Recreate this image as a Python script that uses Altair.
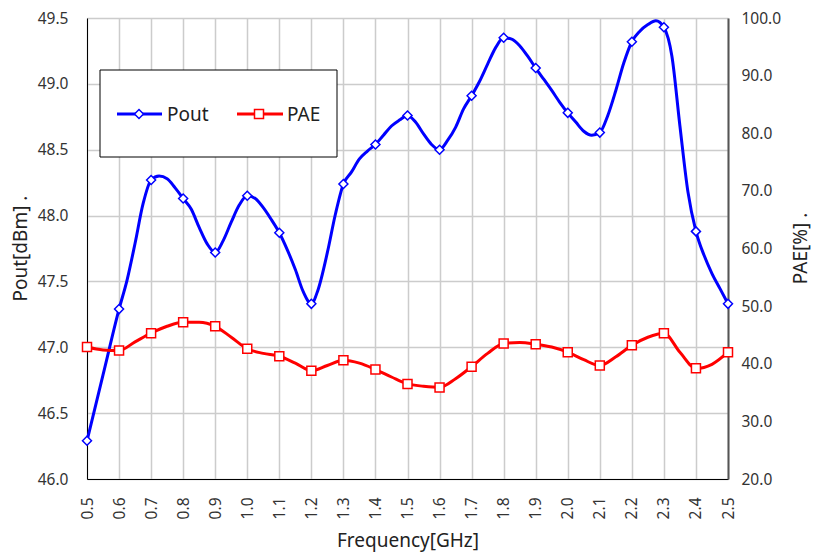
import altair as alt
import pandas as pd

# ---- data ----
freq_marks = [0.5, 0.6, 0.7, 0.8, 0.9, 1.0, 1.1, 1.2, 1.3, 1.4, 1.5,
              1.6, 1.7, 1.8, 1.9, 2.0, 2.1, 2.2, 2.3, 2.4, 2.5]
pout_marks = [46.29, 47.29, 48.27, 48.13, 47.72, 48.15, 47.87, 47.33, 48.24, 48.54, 48.76,
              48.50, 48.91, 49.35, 49.12, 48.78, 48.63, 49.32, 49.43, 47.88, 47.33]
pae_marks = [42.9, 42.3, 45.3, 47.2, 46.5, 42.6, 41.3, 38.8, 40.6, 39.0, 36.5,
             35.9, 39.5, 43.5, 43.4, 42.0, 39.7, 43.2, 45.3, 39.2, 42.0]

pout_mid_freq = [0.55, 0.625, 0.65, 0.675, 0.725, 0.75, 0.775, 0.825, 0.85, 0.875,
                 0.925, 0.95, 0.975, 1.025, 1.05, 1.075, 1.125, 1.15, 1.175, 1.22,
                 1.25, 1.275, 1.325, 1.35, 1.375, 1.425, 1.45, 1.475, 1.525, 1.55,
                 1.575, 1.625, 1.65, 1.675, 1.725, 1.75, 1.775, 1.825, 1.85, 1.875,
                 1.925, 1.95, 1.975, 2.025, 2.05, 2.075, 2.125, 2.15, 2.175, 2.225,
                 2.25, 2.275, 2.325, 2.35, 2.375, 2.425, 2.45, 2.475]
pout_mid = [46.79, 47.51, 47.79, 48.09, 48.30, 48.28, 48.21, 48.05, 47.91, 47.785,
            47.81, 47.95, 48.08, 48.13, 48.06, 47.97, 47.74, 47.59, 47.42, 47.43,
            47.72, 48.01, 48.33, 48.43, 48.49, 48.61, 48.68, 48.725, 48.71, 48.62,
            48.54, 48.57, 48.67, 48.81, 49.02, 49.15, 49.275, 49.34, 49.29, 49.21,
            49.035, 48.95, 48.86, 48.71, 48.64, 48.61, 48.76, 48.95, 49.16, 49.40,
            49.45, 49.48, 49.21, 48.68, 48.18, 47.70, 47.56, 47.445]

pae_mid_freq = [0.55, 0.65, 0.75, 0.85, 0.95, 1.05, 1.15, 1.25, 1.35, 1.45,
                1.55, 1.65, 1.75, 1.85, 1.95, 2.05, 2.15, 2.25, 2.35, 2.45]
pae_mid = [42.4, 43.8, 46.5, 47.2, 44.6, 41.8, 40.1, 39.7, 40.1, 37.7,
           36.1, 37.4, 41.8, 43.7, 42.9, 40.7, 41.2, 44.6, 42.0, 39.9]

series_names = ["Pout", "PAE"]
series_colors = ["#0000FF", "#FF0000"]

x_ticks = [round(0.5 + 0.1 * i, 1) for i in range(21)]
pout_ticks = [46.0, 46.5, 47.0, 47.5, 48.0, 48.5, 49.0, 49.5]
pae_ticks = [20, 30, 40, 50, 60, 70, 80, 90, 100]

FONT = "Noto Sans"

pout_line_df = pd.DataFrame({"f": freq_marks + pout_mid_freq,
                             "v": pout_marks + pout_mid}).sort_values("f")
pae_line_df = pd.DataFrame({"f": freq_marks + pae_mid_freq,
                            "v": pae_marks + pae_mid}).sort_values("f")
pout_pts_df = pd.DataFrame({"f": freq_marks, "v": pout_marks})
pae_pts_df = pd.DataFrame({"f": freq_marks, "v": pae_marks})

x_enc = alt.X("f:Q",
              scale=alt.Scale(domain=[0.5, 2.5], nice=False, zero=False),
              axis=alt.Axis(values=x_ticks, format=".1f", labelAngle=270,
                            labelAlign="right", labelBaseline="middle",
                            labelPadding=18, ticks=False, tickSize=0,
                            grid=True, gridColor="#cccccc", gridWidth=1.5,
                            domainColor="#000000", domainWidth=1,
                            labelFont=FONT, labelFontSize=15.5, labelColor="#333333",
                            title="Frequency[GHz]", titleFont=FONT, titleFontSize=19,
                            titleFontWeight="normal", titleColor="#222222",
                            titleX=320.5, titleY=61, titleAlign="center",
                            titleBaseline="middle"))

y_left = alt.Y("v:Q",
               scale=alt.Scale(domain=[46.0, 49.5], nice=False, zero=False),
               axis=alt.Axis(values=pout_ticks, format=".1f", orient="left",
                             ticks=False, tickSize=0, labelPadding=19,
                             grid=True, gridColor="#cccccc", gridWidth=1.5,
                             domainColor="#000000", domainWidth=1,
                             labelFont=FONT, labelFontSize=15.5, labelColor="#333333",
                             title="Pout[dBm] .", titleFont=FONT, titleFontSize=19,
                             titleFontWeight="normal", titleColor="#222222",
                             titleAngle=270, titleX=-67, titleY=230,
                             titleAlign="center", titleBaseline="middle"))

y_right = alt.Y("v:Q",
                scale=alt.Scale(domain=[20, 100], nice=False, zero=False),
                axis=alt.Axis(values=pae_ticks, format=".1f", orient="right",
                              ticks=False, tickSize=0, labelPadding=13,
                              grid=False, domainColor="#555555", domainWidth=2,
                              labelFont=FONT, labelFontSize=15.5, labelColor="#333333",
                              title="PAE[%] .", titleFont=FONT, titleFontSize=19,
                              titleFontWeight="normal", titleColor="#222222",
                              titleAngle=270, titleX=72, titleY=230,
                              titleAlign="center", titleBaseline="middle"))

pout_line = alt.Chart(pout_line_df).mark_line(
    color=series_colors[0], strokeWidth=3, interpolate="monotone").encode(x=x_enc, y=y_left)
pout_pts = alt.Chart(pout_pts_df).mark_point(
    shape="diamond", size=81, filled=True, fill="white", stroke=series_colors[0],
    strokeWidth=1.5, opacity=1).encode(x=x_enc, y=y_left)

pae_line = alt.Chart(pae_line_df).mark_line(
    color=series_colors[1], strokeWidth=3, interpolate="monotone").encode(x=x_enc, y=y_right)
pae_pts = alt.Chart(pae_pts_df).mark_point(
    shape="square", size=81, filled=True, fill="white", stroke=series_colors[1],
    strokeWidth=1.5, opacity=1).encode(x=x_enc, y=y_right)

pout_layer = alt.layer(pout_line, pout_pts)
pae_layer = alt.layer(pae_line, pae_pts)

# ---- legend box (drawn in pixel space) ----
one = alt.Data(values=[{"k": 0}])
legend_box = alt.Chart(one).mark_rect(
    fill="white", stroke="#000000", strokeWidth=1).encode(
    x=alt.value(13), x2=alt.value(250), y=alt.value(52), y2=alt.value(139))

legend_layers = [legend_box]
sym_x = [52, 172]
line_x = [(30, 75), (150, 196)]
text_x = [80, 200]
shapes = ["diamond", "square"]
for i in range(2):
    legend_layers.append(alt.Chart(one).mark_rule(
        color=series_colors[i], strokeWidth=3).encode(
        x=alt.value(line_x[i][0]), x2=alt.value(line_x[i][1]), y=alt.value(96)))
    legend_layers.append(alt.Chart(one).mark_point(
        shape=shapes[i], size=81, filled=True, fill="white", stroke=series_colors[i],
        strokeWidth=1.5, opacity=1).encode(x=alt.value(sym_x[i]), y=alt.value(96)))
    legend_layers.append(alt.Chart(one).mark_text(
        align="left", baseline="middle", font=FONT, fontSize=19,
        color="#222222").encode(
        x=alt.value(text_x[i]), y=alt.value(97), text=alt.value(series_names[i])))

chart = alt.layer(pout_layer, pae_layer, *legend_layers).resolve_scale(
    y="independent"
).properties(
    width=641, height=461,
    autosize=alt.AutoSizeParams(type="none"),
    padding={"left": 79, "top": 10, "right": 84, "bottom": 75},
    background="white",
).configure_view(strokeWidth=0)

chart.save("out.html", embed_options={"renderer": "svg", "actions": False})
